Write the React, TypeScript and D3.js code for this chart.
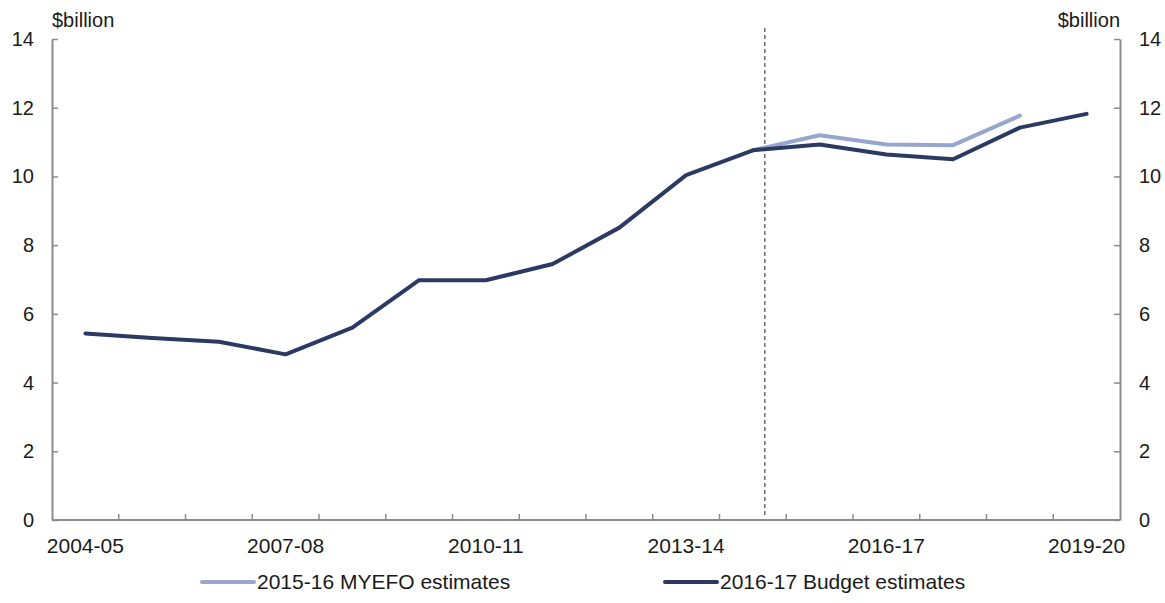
import React, { useEffect, useRef } from "react";
import * as d3 from "d3";

// financial years on the x axis
const years = [
  "2004-05", "2005-06", "2006-07", "2007-08", "2008-09", "2009-10",
  "2010-11", "2011-12", "2012-13", "2013-14", "2014-15", "2015-16",
  "2016-17", "2017-18", "2018-19", "2019-20"
];

// $billion
const budgetValues = [
  5.43, 5.3, 5.19, 4.82, 5.6, 6.98, 6.98, 7.45, 8.51, 10.04, 10.76,
  10.93, 10.64, 10.5, 11.42, 11.82
];
const myefoYears = ["2014-15", "2015-16", "2016-17", "2017-18", "2018-19"];
const myefoValues = [10.76, 11.2, 10.93, 10.91, 11.77];

const tickLabels = ["2004-05", "2007-08", "2010-11", "2013-14", "2016-17", "2019-20"];
const yTicks = [0, 2, 4, 6, 8, 10, 12, 14];

const seriesNames = ["2015-16 MYEFO estimates", "2016-17 Budget estimates"];

function drawChart(container: SVGSVGElement) {
  var width = 1165,
    height = 603;
  var left = 52,
    right = 1120,
    top = 39,
    bottom = 520;

  var axisColor = "#8c8c8c",
    textColor = "#1a1a1a",
    darkColor = "#2b3a63",
    lightColor = "#97a6cf",
    font = "'Liberation Sans', Arial, sans-serif";

  var svg = d3.select(container);
  svg.selectAll("*").remove();
  svg.attr("width", width).attr("height", height);

  var x = d3.scaleBand().domain(years).range([left, right]);
  var y = d3.scaleLinear().domain([0, 14]).range([bottom, top]);
  var cx = (d: string) => (x(d) as number) + x.bandwidth() / 2;

  // left axis
  svg
    .append("g")
    .attr("transform", "translate(" + left + ",0)")
    .call(d3.axisRight(y).tickValues(yTicks).tickSizeInner(6).tickSizeOuter(0).tickFormat(() => ""))
    .selectAll("text")
    .remove();

  // right axis
  svg
    .append("g")
    .attr("transform", "translate(" + right + ",0)")
    .call(d3.axisLeft(y).tickValues(yTicks).tickSizeInner(6).tickSizeOuter(0).tickFormat(() => ""))
    .selectAll("text")
    .remove();

  // bottom axis with ticks between the bands
  var xb = svg.append("g").attr("transform", "translate(0," + bottom + ")");
  xb.append("line")
    .attr("x1", left)
    .attr("x2", right)
    .attr("stroke", axisColor)
    .attr("stroke-width", 2);
  xb.selectAll("line.tick")
    .data(years.slice(1))
    .join("line")
    .attr("class", "tick")
    .attr("x1", (d) => x(d) as number)
    .attr("x2", (d) => x(d) as number)
    .attr("y1", 0)
    .attr("y2", -6)
    .attr("stroke", axisColor)
    .attr("stroke-width", 1.5);

  svg.selectAll(".domain").attr("stroke", axisColor).attr("stroke-width", 2);
  svg.selectAll(".tick line").attr("stroke", axisColor).attr("stroke-width", 1.5);

  // y tick labels on both sides
  svg
    .append("g")
    .attr("class", "ylab")
    .selectAll("text")
    .data(yTicks)
    .join("text")
    .attr("x", 34)
    .attr("y", (d) => y(d))
    .attr("dy", "0.35em")
    .attr("text-anchor", "end")
    .text((d) => d);
  svg
    .append("g")
    .attr("class", "ylab")
    .selectAll("text")
    .data(yTicks)
    .join("text")
    .attr("x", 1139)
    .attr("y", (d) => y(d))
    .attr("dy", "0.35em")
    .attr("text-anchor", "start")
    .text((d) => d);

  // units
  var units = svg.append("g").attr("class", "ylab");
  units.append("text").attr("x", left).attr("y", 27).text("$billion");
  units.append("text").attr("x", right).attr("y", 27).attr("text-anchor", "end").text("$billion");

  // x labels
  svg
    .append("g")
    .attr("class", "xlab")
    .selectAll("text")
    .data(tickLabels)
    .join("text")
    .attr("x", (d) => cx(d))
    .attr("y", 553)
    .attr("text-anchor", "middle")
    .text((d) => d);

  // dashed divider just after the 2014-15 point
  var divX = cx("2014-15") + x.bandwidth() * 0.18;
  svg
    .append("line")
    .attr("x1", divX)
    .attr("x2", divX)
    .attr("y1", 28)
    .attr("y2", 515)
    .attr("stroke", "#222")
    .attr("stroke-width", 1)
    .attr("stroke-dasharray", "4,3");

  var line = d3
    .line<[string, number]>()
    .x((d) => cx(d[0]))
    .y((d) => y(d[1]));

  svg
    .append("path")
    .datum(myefoYears.map((d, i) => [d, myefoValues[i]] as [string, number]))
    .attr("d", line)
    .attr("fill", "none")
    .attr("stroke", lightColor)
    .attr("stroke-width", 4)
    .attr("stroke-linecap", "round")
    .attr("stroke-linejoin", "round");

  svg
    .append("path")
    .datum(years.map((d, i) => [d, budgetValues[i]] as [string, number]))
    .attr("d", line)
    .attr("fill", "none")
    .attr("stroke", darkColor)
    .attr("stroke-width", 4)
    .attr("stroke-linecap", "round")
    .attr("stroke-linejoin", "round");

  // legend
  var legendX = [200, 663];
  var legendColors = [lightColor, darkColor];
  var legend = svg
    .append("g")
    .attr("class", "xlab")
    .selectAll("g")
    .data(seriesNames)
    .join("g")
    .attr("transform", (d, i) => "translate(" + legendX[i] + ",582)");
  legend
    .append("line")
    .attr("x1", 2)
    .attr("x2", 54)
    .attr("stroke", (d, i) => legendColors[i])
    .attr("stroke-width", 4)
    .attr("stroke-linecap", "round");
  legend
    .append("text")
    .attr("x", 57)
    .attr("dy", "0.35em")
    .text((d) => d);

  svg.selectAll("text").attr("font-family", font).attr("fill", textColor);
  svg.selectAll(".ylab text").attr("font-size", 20);
  svg.selectAll(".xlab text").attr("font-size", 21);
}

export default function App() {
  const ref = useRef<SVGSVGElement>(null);
  useEffect(() => {
    if (ref.current) drawChart(ref.current);
  }, []);
  return (
    <svg
      ref={ref}
      style={{ position: "absolute", left: 0, top: 0, background: "#fff" }}
    />
  );
}
